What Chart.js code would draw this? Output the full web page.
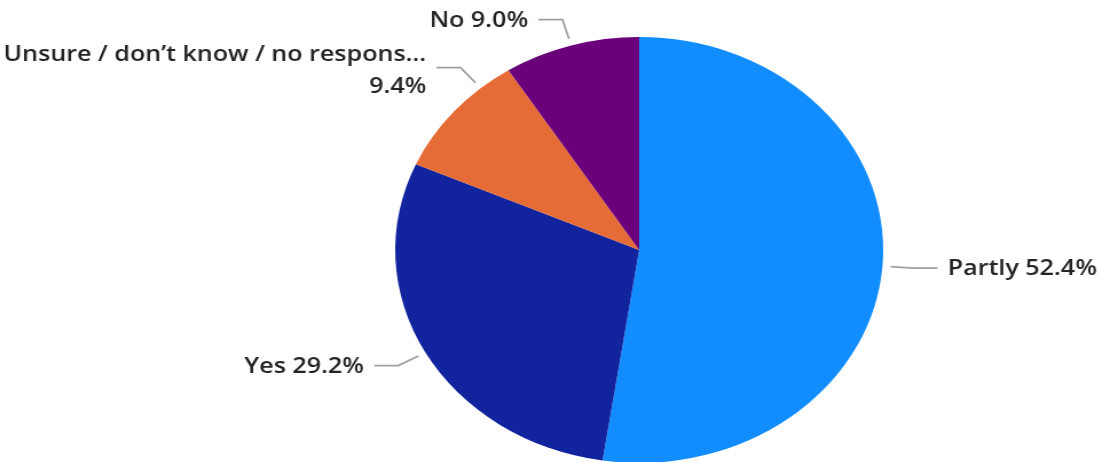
<!DOCTYPE html>
<html>
<head>
<meta charset="utf-8">
<script src="https://cdn.jsdelivr.net/npm/chart.js@4.4.1/dist/chart.umd.min.js"></script>
<style>
    html, body { margin: 0; padding: 0; background: #fff; overflow: hidden; }
    #wrap { width: 1102px; height: 462px; overflow: hidden; }
</style>
</head>
<body>
<div id="wrap">
    <canvas id="pieChart" width="962" height="480" style="width:1102px;height:480px;"></canvas>
</div>

<script>
// Data
const categories = ["Partly", "Yes", "Unsure / don’t know / no response", "No"];
const values = [52.4, 29.2, 9.4, 9.0];
const colors = ["#118DFF", "#12239E", "#E66C37", "#6B007B"];

// label helpers
const maxLabelChars = 32;
const angleShift = [0, 0, 8.8, 0]; // degrees, nudges leader start (avoid overlap)
const twoLineLabels = [false, false, true, false];

function shortName(name) {
    return name.length > maxLabelChars ? name.slice(0, maxLabelChars) + "..." : name;
}

// Leader lines + labels
const outsideLabels = {
    id: "outsideLabels",
    afterDraw(chart) {
        const ctx = chart.ctx;
        const meta = chart.getDatasetMeta(0);

        ctx.save();
        ctx.font = "600 21.9px 'Open Sans', sans-serif";
        ctx.textBaseline = "middle";

        meta.data.forEach((arc, i) => {
            const { x, y, startAngle, endAngle, outerRadius } = arc.getProps(
                ["x", "y", "startAngle", "endAngle", "outerRadius"], true
            );
            const a = (startAngle + endAngle) / 2 + angleShift[i] * Math.PI / 180;
            const cos = Math.cos(a), sin = Math.sin(a);
            const dir = cos >= 0 ? 1 : -1;

            const p1 = { x: x + cos * (outerRadius + 7), y: y + sin * (outerRadius + 7) };
            const p2 = { x: x + cos * (outerRadius + 27), y: y + sin * (outerRadius + 27) };
            const p3 = { x: p2.x + dir * 21, y: p2.y };

            ctx.strokeStyle = "#a0a0a0";
            ctx.lineWidth = 1.8;
            ctx.beginPath();
            ctx.moveTo(p1.x, p1.y);
            ctx.lineTo(p2.x, p2.y);
            ctx.lineTo(p3.x, p3.y);
            ctx.stroke();

            const pct = values[i].toFixed(1) + "%";
            const name = shortName(categories[i]);
            const tx = p3.x + dir * 9;

            ctx.fillStyle = "#252423";
            ctx.textAlign = dir > 0 ? "left" : "right";

            if (twoLineLabels[i]) {
                ctx.fillText(name, tx, p3.y - 13);
                ctx.fillText(pct, tx, p3.y + 19);
            } else {
                ctx.fillText(name + " " + pct, tx, p3.y + 1);
            }
        });

        ctx.restore();
    }
};

const ctx = document.getElementById("pieChart").getContext("2d");

new Chart(ctx, {
    type: "pie",
    data: {
        labels: categories,
        datasets: [{
            data: values,
            backgroundColor: colors,
            borderWidth: 0
        }]
    },
    options: {
        responsive: false,
        animation: false,
        events: [],
        layout: { padding: { top: 37, bottom: 17, left: 300, right: 146 } },
        plugins: {
            legend: { display: false },
            tooltip: { enabled: false }
        }
    },
    plugins: [outsideLabels]
});
</script>
</body>
</html>
